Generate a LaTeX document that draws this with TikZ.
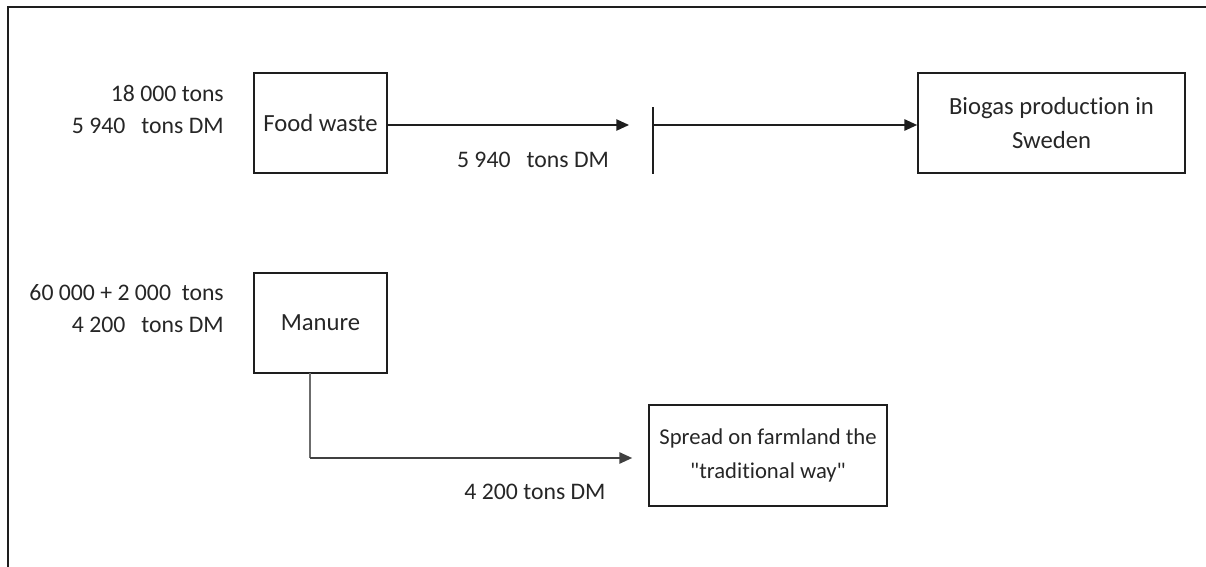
\documentclass[tikz,border=0pt]{standalone}
\usepackage{fontspec}
\setmainfont{Carlito}[Ligatures={NoCommon}]
\usetikzlibrary{arrows.meta}
\definecolor{ink}{HTML}{262626}
\definecolor{edge}{HTML}{1E1E1E}
\tikzset{
  box/.style={draw=edge, line width=1.3pt, minimum width=133*0.75pt, minimum height=100*0.75pt,
              inner sep=0pt, align=center, text=ink, font=\fontsize{18.5}{25.5}\selectfont},
  widebox/.style={box, minimum width=267*0.75pt},
  spreadbox/.style={box, minimum width=238*0.75pt, minimum height=101*0.75pt,
                    font=\fontsize{17}{25}\selectfont},
  lbl/.style={text=ink, font=\fontsize{17.8}{24}\selectfont, inner sep=0pt},
  flow/.style={draw=edge, line width=1pt, -{Triangle[length=9.5pt,width=8.5pt]}},
}
\begin{document}
\begin{tikzpicture}[x=0.75pt, y=-0.75pt]
\useasboundingbox (0,0) rectangle (1206,567);

% outer frame (top and left edges)
\draw[edge, line width=1.5pt] (8,567) -- (8,7) -- (1206,7);

% process boxes
\node[box] (food) at (320.5,123) {Food waste};
\node[widebox] (biogas) at (1051.5,123) {Biogas production in\\Sweden};
\node[box] (manure) at (320.5,323) {Manure};
\node[spreadbox] (spread) at (768,455.5) {Spread on farmland the\\\textquotedbl traditional way\textquotedbl};

% input quantities
\node[lbl, anchor=east, align=right] (foodin) at (224,109) {18 000 tons\\5 940\ \ \ tons DM};
\node[lbl, anchor=east, align=right] (manin) at (224,308.5) {60 000 + 2 000\ \ tons\\4 200\ \ \ tons DM};

% gate bar between food waste and biogas
\coordinate (gate) at (653,125);
\coordinate (gateTop) at (653,107);
\coordinate (gateBot) at (653,174);
\draw[edge, line width=1.1pt] (gateTop) -- (gateBot);

\path[flow] (food.east |- gate) -- ([xshift=-18]gate);
\path[flow] (gate) -- (biogas.west |- gate);
\node[lbl] (foodflow) at (533,160) {5 940\ \ \ tons DM};

% manure to farmland
\coordinate (mdrop) at (310,373);
\coordinate (mturn) at (310,458);
\draw[draw=gray!85!black, line width=1.8pt] (mdrop) -- (mturn);
\path[flow, draw=black!75] (mturn) -- ([xshift=-12]spread.west |- mturn);
\node[lbl] (manflow) at (535,492) {4 200\ tons DM};
\end{tikzpicture}
\end{document}
